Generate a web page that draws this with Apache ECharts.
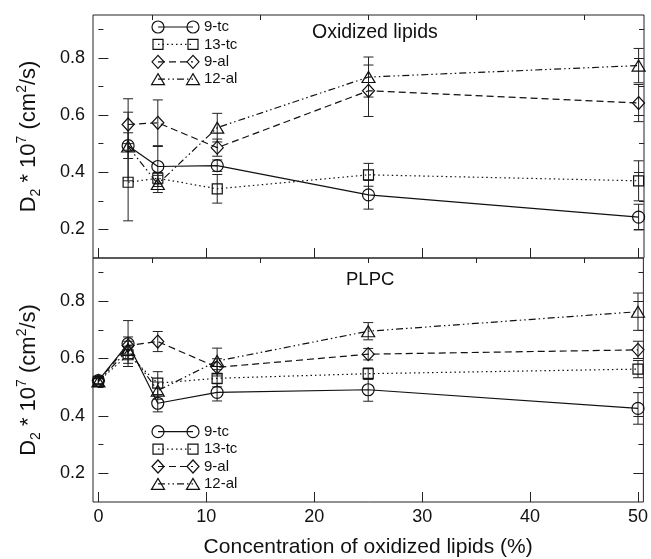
<!DOCTYPE html>
<html>
<head>
<meta charset="utf-8">
<script src="https://cdn.jsdelivr.net/npm/echarts@6/dist/echarts.min.js"></script>
<style>
html, body { margin: 0; padding: 0; background: #fff; }
#chart { width: 651px; height: 559px; }
</style>
</head>
<body>
<div id="chart"></div>
<script>
// concentrations (%)
var xOxidized = [2.75, 5.5, 11, 25, 50];
var xPLPC = [0, 2.75, 5.5, 11, 25, 50];
var seriesNames = ['9-tc', '13-tc', '9-al', '12-al'];

// upper panel: oxidized lipids
var ox9tc = [0.493, 0.42, 0.423, 0.321, 0.243];
var ox9tcErr = [0.045, 0.07, 0.02, 0.05, 0.045];
var ox13tc = [0.365, 0.379, 0.342, 0.391, 0.37];
var ox13tcErr = [0.135, 0.02, 0.05, 0.04, 0.07];
var ox9al = [0.567, 0.573, 0.486, 0.685, 0.642];
var ox9alErr = [0.09, 0.08, 0.03, 0.09, 0.065];
var ox12al = [0.49, 0.359, 0.556, 0.733, 0.773];
var ox12alErr = [0.12, 0.03, 0.05, 0.07, 0.06];

// lower panel: PLPC
var pl9tc = [0.523, 0.652, 0.444, 0.482, 0.491, 0.426];
var pl9tcErr = [0.012, 0.08, 0.03, 0.03, 0.04, 0.055];
var pl13tc = [0.52, 0.613, 0.514, 0.531, 0.547, 0.563];
var pl13tcErr = [0.012, 0.03, 0.04, 0.03, 0.02, 0.03];
var pl9al = [0.522, 0.645, 0.659, 0.569, 0.615, 0.63];
var pl9alErr = [0.01, 0.03, 0.035, 0.03, 0.02, 0.03];
var pl12al = [0.52, 0.63, 0.488, 0.591, 0.695, 0.763];
var pl12alErr = [0.01, 0.03, 0.03, 0.045, 0.03, 0.065];

// tick labels
var xMajor = [0, 10, 20, 30, 40, 50];
var xMinor = [5, 15, 25, 35, 45];
var yMajor = [0.2, 0.4, 0.6, 0.8];
var yMinor = [0.3, 0.5, 0.7, 0.9];

var FONT = '"Liberation Sans", Arial, Helvetica, sans-serif';
var INK = '#111';

// marker / line look for each compound
var looks = [
	{ symbol: 'circle', size: 12, dash: 'solid' },
	{ symbol: 'rect', size: 10, dash: [1.5, 3] },
	{ symbol: 'diamond', size: [12, 13], dash: [7, 4] },
	{ symbol: 'triangle', size: [13, 11], dash: [7, 3, 1.5, 3, 1.5, 3] }
];

function pairUp(xs, ys) {
	return xs.map(function(x, i) { return [x, ys[i]]; });
}

function errData(xs, ys, es) {
	return xs.map(function(x, i) { return [x, ys[i] - es[i], ys[i] + es[i]]; });
}

// error bar with caps
function renderErr(params, api) {
	var x = api.value(0);
	var pLo = api.coord([x, api.value(1)]);
	var pHi = api.coord([x, api.value(2)]);
	var w = 5;
	var st = { stroke: '#222', lineWidth: 1 };
	return {
		type: 'group',
		children: [
			{ type: 'line', shape: { x1: pLo[0], y1: pLo[1], x2: pHi[0], y2: pHi[1] }, style: st },
			{ type: 'line', shape: { x1: pLo[0] - w, y1: pLo[1], x2: pLo[0] + w, y2: pLo[1] }, style: st },
			{ type: 'line', shape: { x1: pHi[0] - w, y1: pHi[1], x2: pHi[0] + w, y2: pHi[1] }, style: st }
		]
	};
}

function makeSeries(xs, values, errs, xIdx, yIdx) {
	var out = [];
	values.forEach(function(ys, k) {
		out.push({
			type: 'custom',
			xAxisIndex: xIdx,
			yAxisIndex: yIdx,
			renderItem: renderErr,
			encode: { x: 0, y: [1, 2] },
			data: errData(xs, ys, errs[k]),
			z: 1,
			silent: true
		});
		out.push({
			type: 'line',
			name: seriesNames[k],
			xAxisIndex: xIdx,
			yAxisIndex: yIdx,
			data: pairUp(xs, ys),
			symbol: looks[k].symbol,
			symbolSize: looks[k].size,
			showAllSymbol: true,
			lineStyle: { color: INK, width: 1.2, type: looks[k].dash },
			itemStyle: { color: 'transparent', borderColor: INK, borderWidth: 1.2 },
			z: 2
		});
	});
	return out;
}

// axes for one panel: major/minor x, major/minor y on left and right
function xAxes(gi, showLabels) {
	return [{
		type: 'value', gridIndex: gi, min: -0.5, max: 50.5,
		axisLine: { show: false },
		splitLine: { show: false },
		axisTick: { inside: true, length: 10, customValues: xMajor, lineStyle: { color: '#222' } },
		axisLabel: { show: showLabels, customValues: xMajor, margin: 6, fontSize: 18, color: INK, fontFamily: FONT },
		name: showLabels ? 'Concentration of oxidized lipids (%)' : '',
		nameLocation: 'middle', nameGap: 35,
		nameTextStyle: { fontSize: 21, color: INK, fontFamily: FONT }
	}, {
		type: 'value', gridIndex: gi, min: -0.5, max: 50.5,
		axisLine: { show: false },
		splitLine: { show: false },
		axisTick: { inside: true, length: 5, customValues: xMinor, lineStyle: { color: '#222' } },
		axisLabel: { show: false }
	}];
}

function yAxes(gi) {
	var base = {
		type: 'value', gridIndex: gi, min: 0.1, max: 0.95,
		axisLine: { show: false },
		splitLine: { show: false }
	};
	var rich = {
		m: { fontSize: 22, lineHeight: 28, verticalAlign: 'middle', fontFamily: FONT, color: INK },
		sub: { fontSize: 14, lineHeight: 14, verticalAlign: 'bottom', fontFamily: FONT, color: INK },
		sup: { fontSize: 14, lineHeight: 14, verticalAlign: 'top', fontFamily: FONT, color: INK }
	};
	return [
		Object.assign({}, base, {
			position: 'left',
			axisTick: { inside: true, length: 10, customValues: yMajor, lineStyle: { color: '#222' } },
			axisLabel: {
				customValues: yMajor, margin: 8, fontSize: 18, color: INK, fontFamily: FONT,
				formatter: function(v) { return v.toFixed(1); }
			},
			name: '{m|D}{sub|2}{m| * 10}{sup|7}{m| (cm}{sup|2}{m|/s)}',
			nameLocation: 'middle', nameRotate: 90, nameGap: 50,
			nameTextStyle: { rich: rich }
		}),
		Object.assign({}, base, {
			position: 'left',
			axisTick: { inside: true, length: 5, customValues: yMinor, lineStyle: { color: '#222' } },
			axisLabel: { show: false }
		}),
		Object.assign({}, base, {
			position: 'right',
			axisTick: { inside: true, length: 10, customValues: yMajor, lineStyle: { color: '#222' } },
			axisLabel: { show: false }
		}),
		Object.assign({}, base, {
			position: 'right',
			axisTick: { inside: true, length: 5, customValues: yMinor, lineStyle: { color: '#222' } },
			axisLabel: { show: false }
		})
	];
}

// hand drawn legend block (line with a marker at each end)
function legendBlock(x0, y0) {
	var out = [];
	var xL = x0, xR = x0 + 35, step = 17.4;
	seriesNames.forEach(function(name, k) {
		var y = y0 + k * step;
		var st = { stroke: INK, lineWidth: 1.2, fill: 'transparent' };
		out.push({
			type: 'line', shape: { x1: xL, y1: y, x2: xR, y2: y },
			style: { stroke: INK, lineWidth: 1.2, lineDash: looks[k].dash === 'solid' ? null : looks[k].dash }
		});
		[xL, xR].forEach(function(cx) {
			if (k === 0) {
				out.push({ type: 'circle', shape: { cx: cx, cy: y, r: 6 }, style: st });
			} else if (k === 1) {
				out.push({ type: 'rect', shape: { x: cx - 5, y: y - 5, width: 10, height: 10 }, style: st });
			} else if (k === 2) {
				out.push({ type: 'polygon', shape: { points: [[cx - 6, y], [cx, y - 6.5], [cx + 6, y], [cx, y + 6.5]] }, style: st });
			} else {
				out.push({ type: 'polygon', shape: { points: [[cx - 6.5, y + 5.5], [cx, y - 5.5], [cx + 6.5, y + 5.5]] }, style: st });
			}
		});
		out.push({
			type: 'text', x: xR + 11, y: y,
			style: { text: name, fontSize: 15, fontFamily: FONT, fill: INK, verticalAlign: 'middle' }
		});
	});
	return out;
}

var chart = echarts.init(document.getElementById('chart'));
var allX = xAxes(0, false).concat(xAxes(1, true));
var allY = yAxes(0).concat(yAxes(1));

var series = makeSeries(xOxidized, [ox9tc, ox13tc, ox9al, ox12al],
		[ox9tcErr, ox13tcErr, ox9alErr, ox12alErr], 0, 0)
	.concat(makeSeries(xPLPC, [pl9tc, pl13tc, pl9al, pl12al],
		[pl9tcErr, pl13tcErr, pl9alErr, pl12alErr], 2, 4));

var option = {
	backgroundColor: '#fff',
	animation: false,
	grid: [
		{ left: 93, right: 7, top: 15, height: 243, show: true, borderColor: '#222', borderWidth: 1 },
		{ left: 93, right: 7, top: 258, height: 244, show: true, borderColor: '#222', borderWidth: 1 }
	],
	xAxis: allX,
	yAxis: allY,
	graphic: legendBlock(158, 27).concat(legendBlock(158, 431.7)).concat([
		{ type: 'text', x: 312, y: 33, style: { text: 'Oxidized lipids', fontSize: 19.5, fontFamily: FONT, fill: INK, verticalAlign: 'middle' } },
		{ type: 'text', x: 346, y: 280, style: { text: 'PLPC', fontSize: 18.5, fontFamily: FONT, fill: INK, verticalAlign: 'middle' } }
	]),
	series: series
};
chart.setOption(option);
</script>
</body>
</html>
